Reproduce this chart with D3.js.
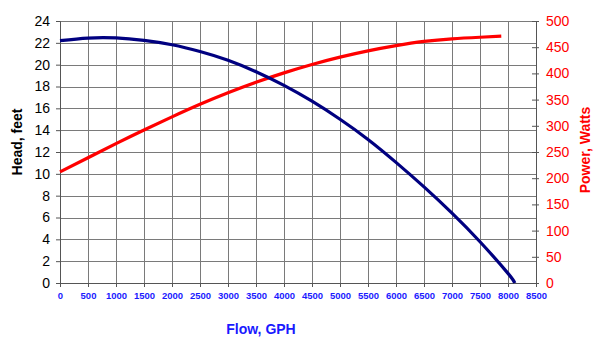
<!DOCTYPE html>
<html><head><meta charset="utf-8">
<script src="https://cdn.jsdelivr.net/npm/d3@7"></script>
<style>body{margin:0;background:#fff}svg{display:block;font-family:"Liberation Sans",Arial,sans-serif}</style>
</head><body>
<svg id="c" width="600" height="341"></svg>
<script>
const headFlow = [0,500,1000,1500,2000,2500,3000,3500,4000,4500,5000,5500,6000,6500,7000,7500,8000,8120];
const headFeet = [22.2,22.44,22.45,22.22,21.82,21.2,20.4,19.35,18.1,16.65,15.0,13.15,11.05,8.8,6.4,3.78,0.88,0];
const powerFlow = [0,500,1000,1500,2000,2500,3000,3500,4000,4500,5000,5500,6000,6500,7000,7500,7880];
const powerWatts = [212,239,266,292,317,341,363,383,401,417,431,443,453,461,466,469,471];
const xTicks = d3.range(0,8501,500);
const yLeftTicks = d3.range(0,25,2);
const yRightTicks = d3.range(0,501,50);

const svg = d3.select("#c");
const L=60,R=536,T=21,B=283;
const x = d3.scaleLinear().domain([0,8500]).range([L,R]);
const yL = d3.scaleLinear().domain([0,24]).range([B,T]);
const yR = d3.scaleLinear().domain([0,500]).range([B,T]);

// grid
const g = svg.append("g");
g.selectAll(".v").data(xTicks).join("line")
  .attr("x1",d=>Math.round(x(d))+0.5).attr("x2",d=>Math.round(x(d))+0.5)
  .attr("y1",T).attr("y2",B).attr("stroke","#7a7a7a").attr("stroke-width",1);
g.selectAll(".h").data(yLeftTicks).join("line")
  .attr("y1",d=>Math.round(yL(d))+0.5).attr("y2",d=>Math.round(yL(d))+0.5)
  .attr("x1",L).attr("x2",R).attr("stroke","#7a7a7a").attr("stroke-width",1);

// axes
const ax = svg.append("g").attr("transform",`translate(0,${B})`)
  .call(d3.axisBottom(x).tickValues(xTicks).tickFormat(d3.format("d")).tickSize(4).tickPadding(5));
ax.select(".domain").attr("stroke","#555");
ax.selectAll(".tick line").attr("stroke","#555");
ax.selectAll("text").attr("fill","#1a1aff").attr("font-weight","bold").attr("font-size","9.5px");

const al = svg.append("g").attr("transform",`translate(${L},0)`)
  .call(d3.axisLeft(yL).tickValues(yLeftTicks).tickSize(4).tickPadding(6));
al.select(".domain").attr("stroke","#555");
al.selectAll(".tick line").attr("stroke","#555");
al.selectAll("text").attr("fill","#000").attr("font-size","14px");

const ar = svg.append("g").attr("transform",`translate(${R},0)`)
  .call(d3.axisRight(yR).tickValues(yRightTicks).tickSize(3).tickPadding(7));
ar.select(".domain").attr("stroke","#555");
ar.selectAll(".tick line").attr("stroke","#555").attr("x1",-4);
ar.selectAll("text").attr("fill","#ff0000").attr("font-size","14px");

// lines
const headLine = d3.line().x(d=>x(d[0])).y(d=>yL(d[1])).curve(d3.curveNatural);
const powLine = d3.line().x(d=>x(d[0])).y(d=>yR(d[1])).curve(d3.curveNatural);
svg.append("path").datum(powerFlow.map((f,i)=>[f,powerWatts[i]]))
  .attr("d",powLine).attr("fill","none").attr("stroke","#ff0000").attr("stroke-width",3.2);
svg.append("path").datum(headFlow.map((f,i)=>[f,headFeet[i]]))
  .attr("d",headLine).attr("fill","none").attr("stroke","#000080").attr("stroke-width",3.2);

// titles
svg.append("text").attr("x",261).attr("y",334).attr("text-anchor","middle")
  .attr("fill","#1a1aff").attr("font-weight","bold").attr("font-size","14px").text("Flow, GPH");
svg.append("text").attr("transform","translate(22,142) rotate(-90)").attr("text-anchor","middle")
  .attr("fill","#000").attr("font-weight","bold").attr("font-size","14px").text("Head, feet");
svg.append("text").attr("transform","translate(590,150) rotate(-90)").attr("text-anchor","middle")
  .attr("fill","#ff0000").attr("font-weight","bold").attr("font-size","14px").text("Power, Watts");
</script>
</body></html>
